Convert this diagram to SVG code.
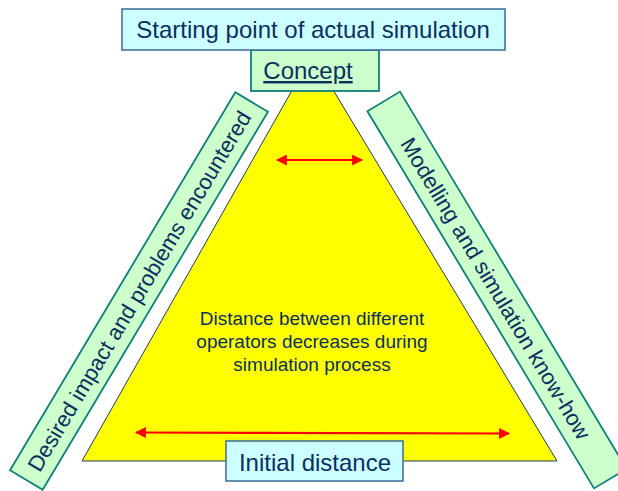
<svg xmlns="http://www.w3.org/2000/svg" width="618" height="491" viewBox="0 0 618 491">
<style>
text{font-family:"Liberation Sans",Arial,sans-serif;fill:#0B2F5E}
.band{fill:#CCFFCC;stroke:#0E7F7A;stroke-width:1.8}
.cyan{fill:#CCFFFF;stroke:#3D6A96;stroke-width:1.5}
.arrow{stroke:#FF0000;stroke-width:2.2;fill:none;marker-start:url(#ah);marker-end:url(#ah)}
</style>
<defs>
<marker id="ah" viewBox="0 0 10 10" refX="9" refY="5" markerWidth="5" markerHeight="5" orient="auto-start-reverse" markerUnits="strokeWidth">
<path d="M0,0 L10,5 L0,10 z" fill="#FF0000"/>
</marker>
</defs>
<rect width="618" height="491" fill="#FFFFFF"/>
<g id="triangle">
<polygon points="312,55 557,461 82,461" fill="#FFFF00" stroke="#1F3A6B" stroke-width="1"/>
<text x="312" y="325" font-size="19" text-anchor="middle">Distance between different</text>
<text x="312" y="348" font-size="19" text-anchor="middle">operators decreases during</text>
<text x="312" y="371" font-size="19" text-anchor="middle">simulation process</text>
</g>
<g id="connectors">
<line class="arrow" x1="277" y1="160" x2="362" y2="160"/>
<line class="arrow" x1="136" y1="432.5" x2="509" y2="433.5"/>
</g>
<g id="left-band" transform="translate(139,291) rotate(-59.2)">
<rect class="band" x="-220" y="-19" width="440" height="38"/>
<text x="0" y="8" font-size="22" text-anchor="middle">Desired impact and problems encountered</text>
</g>
<g id="right-band" transform="translate(497,290) rotate(59)">
<rect class="band" x="-220" y="-19" width="440" height="38"/>
<text x="-2" y="8" font-size="22" text-anchor="middle">Modelling and simulation know-how</text>
</g>
<g id="concept">
<rect class="band" x="251" y="50" width="128" height="41"/>
<text x="308" y="79" font-size="24" text-anchor="middle" text-decoration="underline">Concept</text>
</g>
<g id="starting-point">
<rect class="cyan" x="122" y="9" width="383" height="41"/>
<text x="313" y="38" font-size="24" text-anchor="middle">Starting point of actual simulation</text>
</g>
<g id="initial-distance">
<rect class="cyan" x="226" y="441" width="177" height="40"/>
<text x="315" y="471" font-size="24" text-anchor="middle">Initial distance</text>
</g>
</svg>
